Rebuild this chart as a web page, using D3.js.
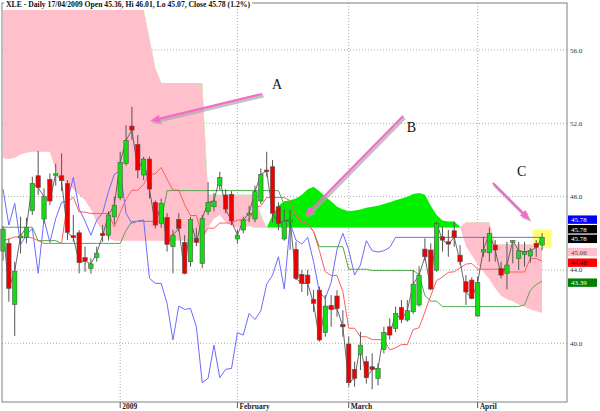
<!DOCTYPE html>
<html><head><meta charset="utf-8">
<script src="https://cdn.jsdelivr.net/npm/d3@7"></script>
<style>body{margin:0;background:#fff}svg{display:block}</style>
</head><body>
<script>
// ---------- DATA ----------
const opens = [45.03,45.45,42.12,45.75,45.78,47.23,49.14,46.78,48.94,49.2, 49.14,48.72,45.87,46.03,44.67,44.09,44.67,46.0,45.9,46.9, 47.94,49.81,51.85,50.85,49.18,50.05,47.69,46.54,46.87,45.27, 46.76,45.5,44.45,45.72,44.36,47.18,47.45,48.6,48.09,48.12, 45.69,46.18,47.0,46.78,47.76,49.45,49.63,47.45,45.69,46.64, 45.12,43.76,43.72,42.4,42.9,40.58,42.07,42.58,41.03,39.96, 38.58,39.4,39.0,38.72,38.09,39.67,40.9,40.81,41.96,41.27, 41.72,42.09,45.14,45.09,43.99,45.81,45.54,46.14,44.81,43.36, 43.45,41.49,44.98,44.94,45.36,44.09,43.81,45.5,44.63,44.85, 44.76,45.45,45.36];
const highs = [46.4,45.7,44.45,46.9,46.85,49.09,50.49,48.45,49.27,49.8, 50.36,48.9,47.0,46.18,45.27,44.63,45.27,46.45,47.2,48.0, 50.45,51.9,52.9,51.36,50.18,50.18,47.8,47.9,47.1,46.2, 47.09,45.9,46.9,46.3,47.0,48.8,48.2,49.36,48.4,48.3, 46.2,46.9,47.5,48.6,49.54,50.45,50.0,47.7,47.3,47.3, 45.54,44.0,44.0,42.9,43.09,42.63,42.63,42.9,41.8,40.36, 39.0,40.63,39.3,39.45,38.9,40.9,41.36,42.0,42.36,42.36, 44.0,44.2,45.72,45.45,46.63,46.36,46.18,46.63,45.36,43.72, 43.6,43.63,45.81,46.32,45.63,44.45,45.54,45.63,45.54,45.54, 45.2,45.63,46.01];
const lows = [44.5,42.27,40.4,44.9,45.45,47.0,48.09,46.54,47.54,48.6, 48.3,45.63,45.54,43.82,43.9,43.8,44.45,45.54,45.6,46.5, 47.8,49.7,51.1,49.0,48.9,47.9,46.27,46.3,45.0,43.82, 46.09,43.76,44.18,45.3,44.09,47.0,47.2,48.36,47.09,46.45, 45.45,46.0,46.6,46.6,47.6,49.09,46.6,46.18,45.6,45.1, 43.45,42.8,42.6,41.72,40.09,40.36,40.9,41.45,40.36,37.63, 37.63,38.54,37.8,37.49,37.7,39.45,40.2,40.6,41.1,41.18, 41.6,42.0,44.5,42.9,43.9,45.0,44.72,45.27,44.27,42.09, 42.4,41.45,44.72,44.45,44.45,43.54,42.94,44.36,44.0,44.18, 44.4,44.72,45.07];
const closes = [46.23,43.0,43.94,45.85,46.33,48.72,48.49,48.0,47.76,49.25, 48.87,46.05,45.76,44.4,44.49,44.33,44.92,45.87,47.0,47.54, 49.87,51.07,51.63,49.45,50.05,48.41,46.45,47.63,45.4,45.9, 46.27,43.82,46.76,45.5,46.81,47.69,47.76,49.05,47.32,46.67, 45.9,46.72,47.1,48.27,49.22,49.4,47.09,46.54,46.67,46.73, 43.54,43.27,43.27,42.18,40.18,42.03,41.85,41.9,40.9,37.85, 38.09,39.9,38.12,38.58,38.63,40.58,40.45,41.63,41.3,41.78, 43.23,43.72,44.72,42.96,46.54,45.63,45.41,45.78,44.45,42.8, 42.45,43.32,45.12,46.0,45.09,43.72,44.27,45.6,45.05,44.98, 45.05,45.23,45.78];
// Ichimoku lines
const tenkan = [45.6,45.7,45.8,45.8,45.8,45.75,45.6,45.45,45.45,45.45, 45.45,47.7,47.97,47.16,47.16,47.08,47.08,47.08,47.08,46.35, 47.13,47.85,48.35,48.35,48.68,49.22,49.25,49.59,48.95,48.36, 48.36,47.56,46.97,46.97,45.83,46.28,46.28,46.56,46.56,46.56, 46.73,46.73,46.73,47.4,47.5,47.95,47.95,47.95,47.95,47.78, 46.95,46.63,46.53,46.09,45.05,43.9,43.7,43.7,42.82,40.82, 40.82,40.36,40.36,40.2,40.2,40.2,39.65,39.75,39.93,39.93, 40.75,40.85,41.71,42.59,43.42,43.62,43.87,43.9,44.12,44.32, 44.36,44.04,44.04,44.04,44.04,44.04,43.89,43.89,43.89,43.89, 44.63,44.63,44.48];
const kijun = [46.33,46.33,46.33,46.33,46.33,46.33,45.6,45.6,45.6,45.6, 45.45,45.45,45.45,45.45,45.45,45.45,45.45,45.45,45.45,45.45, 45.45,46.15,46.65,46.65,46.65,46.65,46.65,46.65,48.33,48.33, 48.33,48.33,48.33,48.33,48.33,48.33,48.33,48.33,48.33,48.33, 48.33,48.33,48.33,48.33,48.33,48.33,48.33,48.33,47.56,47.1, 46.95,46.63,46.53,46.09,45.27,45.27,45.27,45.27,45.27,44.04, 44.04,44.04,44.04,43.97,43.97,43.97,43.97,43.97,43.97,43.97, 43.97,43.75,42.6,42.3,42.3,42.0,42.0,42.0,42.0,42.0, 42.0,42.0,42.0,42.0,42.0,42.0,42.0,42.0,42.0,42.1, 42.9,43.2,43.39];
const spanA = [50.09,50.05,50.12,50.3,50.4,50.45,50.45,50.45,50.45,49.4, 48.95,48.7,48.4,48.1,47.8,47.3,46.6,46.1,45.75,45.6, 45.6,45.6,45.6,45.6,45.6,45.6,45.6,45.6,45.6,45.6, 45.6,45.6,45.55,45.5,45.5,46.3,46.8,47.0,46.6,46.4, 46.3,46.3,46.4,46.3,46.3,46.3,47.0,47.5,47.75,47.8, 47.9,48.1,48.4,48.54,48.3,48.0,47.75,47.45,47.3,47.2, 47.25,47.3,47.4,47.45,47.5,47.6,47.7,47.8,47.9,48.0, 48.15,48.2,48.1,47.5,47.0,46.7,46.64,46.64,46.36,45.3, 44.8,44.3,43.9,43.5,43.0,42.6,42.4,42.3,42.1,42.0, 41.85,41.75,41.65];
const spanB = [58.18,58.18,58.18,58.18,58.18,58.18,58.18,58.18,58.18,58.18, 58.18,58.18,58.18,58.18,58.18,58.18,58.18,58.18,58.18,58.18, 58.18,58.18,58.18,58.18,58.18,56.6,55.0,54.2,54.2,54.2, 54.2,54.2,54.2,54.2,54.2,48.1,48.1,48.1,48.1,48.1, 48.1,48.1,48.1,48.1,47.0,46.3,46.3,46.3,46.3,46.3, 46.3,46.3,46.3,46.3,46.3,46.3,46.3,46.3,46.3,46.3, 46.3,46.3,46.3,46.3,46.3,46.3,46.3,46.3,46.3,46.3, 46.3,46.3,46.3,46.3,46.3,46.3,46.3,46.3,46.3,46.6, 46.6,46.6,46.6,46.6,45.4,45.4,45.4,45.4,45.4,45.4, 45.4,45.4,45.4];
const chikouShift = 25;
const yTicks = [40, 44, 48, 52, 56];
const monthIdx = [20, 40, 59, 81];
const monthLabels = ["2009", "February", "March", "April"];
const sideValues = [45.78, 45.78, 45.78, 45.06, 44.48, 43.39];
const sideFill = ["#0000ff", "#000000", "#000000", "#ffc0cb", "#ff0000", "#008000"];
const sideInk = ["#ffffff", "#ffffff", "#ffffff", "#444444", "#111111", "#ffffff"];
const annoLabels = ["A", "B", "C"];
const annoFrom = [[44.2, 53.6], [68.3, 52.4], [83.6, 48.74]];
const annoTo = [[25.1, 52.13], [51.5, 46.94], [89.9, 46.73]];
const annoText = [[45.9, 53.87], [68.9, 51.53], [87.7, 49.13]];
const highlightIdx = [90.4, 93.6];
const highlightPx = [45.2, 46.2];
const titleText = "XLE - Daily 17/04/2009 Open 45.36, Hi 46.01, Lo 45.07, Close 45.78 (1.2%)";

// ---------- DRAW ----------
const W = 600, H = 411;
const P = {left: 2, right: 567, top: 3, bottom: 402};
const n = closes.length;
const x = d3.scaleLinear().domain([0, n - 1]).range([3, 542.1]);
const y = d3.scaleLinear().domain([40, 56]).range([343.3, 50]);
const svg = d3.select("body").append("svg").attr("width", W).attr("height", H)
  .style("font-family", "'Liberation Serif', 'DejaVu Serif', serif");
const idx = d3.range(n);

// grid
const g = svg.append("g");
g.selectAll(".hg").data(yTicks).enter().append("line")
  .attr("x1", P.left).attr("x2", P.right).attr("y1", d => y(d)).attr("y2", d => y(d))
  .attr("stroke", "#aaa").attr("stroke-width", 1).attr("stroke-dasharray", "1,2");
g.selectAll(".vg").data(monthIdx).enter().append("line")
  .attr("x1", d => x(d)).attr("x2", d => x(d)).attr("y1", P.top).attr("y2", P.bottom)
  .attr("stroke", "#aaa").attr("stroke-width", 1).attr("stroke-dasharray", "1,2");

// cloud
const defs = svg.append("defs");
defs.append("clipPath").attr("id", "aboveB").append("path")
  .attr("d", d3.area().x(i => x(i)).y0(P.top).y1(i => y(spanB[i]))(idx));
defs.append("clipPath").attr("id", "belowB").append("path")
  .attr("d", d3.area().x(i => x(i)).y0(i => y(spanB[i])).y1(P.bottom)(idx));
const cloudArea = d3.area().x(i => x(i)).y0(i => y(spanA[i])).y1(i => y(spanB[i]));
svg.append("path").attr("d", cloudArea(idx)).attr("fill", "#00f000").attr("clip-path", "url(#aboveB)");
svg.append("path").attr("d", cloudArea(idx)).attr("fill", "#ffc0cb").attr("clip-path", "url(#belowB)");

// highlight box
svg.append("rect")
  .attr("x", x(highlightIdx[0])).attr("width", x(highlightIdx[1]) - x(highlightIdx[0]))
  .attr("y", y(highlightPx[1])).attr("height", y(highlightPx[0]) - y(highlightPx[1]))
  .attr("fill", "#ffff70");

// lines
const line = d3.line().x(d => x(d[0])).y(d => y(d[1]));
const chikou = closes.slice(chikouShift).map((c, i) => [i, c]);
chikou.push([n - 1, closes[n - 1]]);
svg.append("path").attr("d", line(chikou)).attr("fill", "none").attr("stroke", "#6b6bff").attr("stroke-width", 1);
svg.append("path").attr("d", line(kijun.map((v, i) => [i, v]))).attr("fill", "none").attr("stroke", "#4fa84f").attr("stroke-width", 1);
svg.append("path").attr("d", line(tenkan.map((v, i) => [i, v]))).attr("fill", "none").attr("stroke", "#ff5c5c").attr("stroke-width", 1);
svg.append("path").attr("d", line(closes.map((v, i) => [i, v]))).attr("fill", "none").attr("stroke", "#444").attr("stroke-width", 0.8);

// candles
const cg = svg.append("g");
cg.selectAll(".wick").data(idx).enter().append("line")
  .attr("x1", i => x(i)).attr("x2", i => x(i)).attr("y1", i => y(highs[i])).attr("y2", i => y(lows[i]))
  .attr("stroke", "#555").attr("stroke-width", 1);
cg.selectAll(".body").data(idx).enter().append("rect")
  .attr("x", i => x(i) - 2.2).attr("width", 4.4)
  .attr("y", i => y(Math.max(opens[i], closes[i])))
  .attr("height", i => Math.max(1.5, Math.abs(y(opens[i]) - y(closes[i]))))
  .attr("fill", i => closes[i] >= opens[i] ? "#11dd11" : "#ee0000")
  .attr("stroke", "#555").attr("stroke-width", 0.6);

// arrows
annoLabels.forEach((lab, k) => {
  const [fx, fy] = [x(annoFrom[k][0]), y(annoFrom[k][1])];
  const [tx, ty] = [x(annoTo[k][0]), y(annoTo[k][1])];
  const ang = Math.atan2(ty - fy, tx - fx);
  const L = 10, Wd = 4;
  const bx = tx - L * Math.cos(ang), by = ty - L * Math.sin(ang);
  const head = (ox, oy) => `M${tx + ox},${ty + oy}L${bx + Wd * Math.sin(ang) + ox},${by - Wd * Math.cos(ang) + oy}L${bx - Wd * Math.sin(ang) + ox},${by + Wd * Math.cos(ang) + oy}Z`;
  svg.append("line").attr("x1", fx + 1.5).attr("y1", fy + 2).attr("x2", bx + 1.5).attr("y2", by + 2)
    .attr("stroke", "#aaa").attr("stroke-width", 3).attr("opacity", 0.7);
  svg.append("path").attr("d", head(1.5, 2)).attr("fill", "#aaa").attr("opacity", 0.7);
  svg.append("line").attr("x1", fx).attr("y1", fy).attr("x2", bx).attr("y2", by)
    .attr("stroke", "#f46ac8").attr("stroke-width", 2.2);
  svg.append("path").attr("d", head(0, 0)).attr("fill", "#f46ac8");
  svg.append("text").attr("x", x(annoText[k][0])).attr("y", y(annoText[k][1]))
    .attr("font-size", 14).attr("fill", "#111").text(lab);
});

// frame
svg.append("rect").attr("x", P.left).attr("y", P.top).attr("width", P.right - P.left).attr("height", P.bottom - P.top)
  .attr("fill", "none").attr("stroke", "#808080").attr("stroke-width", 1);

// y labels
svg.selectAll(".yl").data(yTicks).enter().append("text")
  .attr("x", 570).attr("y", d => y(d) + 2.5).attr("font-size", 7).attr("fill", "#333")
  .text(d => d.toFixed(1));

// side value labels (stacked upward, first entry on top)
let prev = Infinity;
const sidePos = sideValues.map((v, k) => ({v, k}))
  .sort((a, b) => (a.v - b.v) || (b.k - a.k))
  .map(o => {
    let yy = y(o.v) + 1.5;
    if (yy > prev - 9.6) yy = prev - 9.6;
    prev = yy;
    return {k: o.k, v: o.v, yy};
  });
sidePos.forEach(o => {
  svg.append("rect").attr("x", 568).attr("y", o.yy - 4.2).attr("width", 29).attr("height", 8.4).attr("fill", sideFill[o.k]);
  svg.append("text").attr("x", 571).attr("y", o.yy + 2.5).attr("font-size", 7).attr("fill", sideInk[o.k]).text(o.v.toFixed(2));
});

// x ticks
svg.selectAll(".xt").data(monthIdx).enter().append("line")
  .attr("x1", d => x(d)).attr("x2", d => x(d)).attr("y1", P.bottom).attr("y2", P.bottom + 6)
  .attr("stroke", "#555");
svg.selectAll(".xl").data(monthIdx).enter().append("text")
  .attr("x", d => x(d) + 2).attr("y", 409).attr("font-size", 7.5).attr("font-weight", "bold").attr("fill", "#222")
  .text((d, k) => monthLabels[k]);

// title
svg.append("rect").attr("x", 4).attr("y", 0).attr("width", 248).attr("height", 8).attr("fill", "#fff");
svg.append("text").attr("x", 6).attr("y", 6.8).attr("font-size", 7.3).attr("font-weight", "bold")
  .attr("fill", "#111").attr("textLength", 244).attr("lengthAdjust", "spacingAndGlyphs").text(titleText);
</script>
</body></html>
